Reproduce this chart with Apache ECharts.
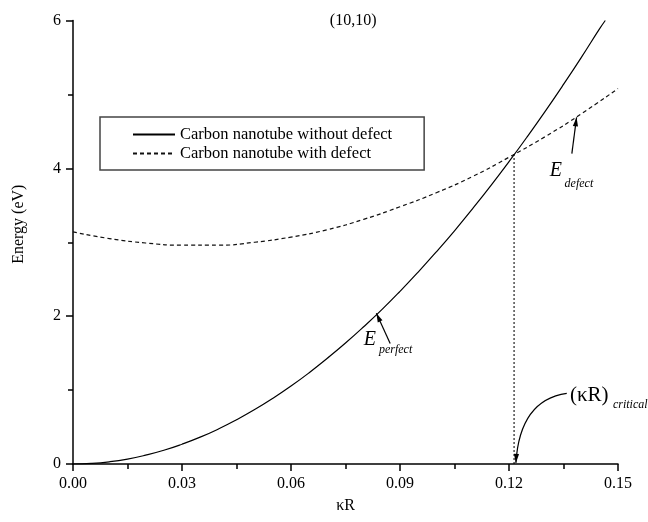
<!DOCTYPE html>
<html>
<head>
<meta charset="utf-8">
<script src="https://cdn.jsdelivr.net/npm/echarts@6/dist/echarts.min.js"></script>
<style>html,body{margin:0;padding:0;background:#fff}#c{width:648px;height:522px}</style>
</head>
<body>
<div id="c"></div>
<script>
// ---- data ----
const perfectKR = [0,0.005,0.01,0.015,0.02,0.025,0.03,0.035,0.04,0.045,0.05,0.055,0.06,0.065,0.07,0.075,0.08,0.085,0.09,0.095,0.10,0.105,0.11,0.115,0.12,0.125,0.13,0.135,0.14,0.145,0.1465];
const perfectE  = [0,0.008,0.030,0.067,0.120,0.186,0.268,0.363,0.473,0.598,0.736,0.888,1.054,1.235,1.430,1.636,1.856,2.088,2.336,2.597,2.870,3.155,3.455,3.766,4.090,4.426,4.774,5.135,5.508,5.893,6.0];
const defectKR  = [0,0.01,0.02,0.03,0.04,0.05,0.06,0.07,0.08,0.09,0.10,0.11,0.12,0.13,0.14,0.15];
const defectE   = [3.14,3.05,2.99,2.96,2.96,3.00,3.07,3.17,3.31,3.48,3.67,3.89,4.15,4.43,4.74,5.08];
const criticalKR = 0.1214;
const criticalE  = 4.19;
const seriesNames = ['Carbon nanotube without defect','Carbon nanotube with defect'];
const xTicks = {min:0, max:0.15, interval:0.03};
const yTicks = {min:0, max:6, interval:2};
const titleText = '(10,10)';

const FONT = "'Liberation Serif','Times New Roman',serif";
const chart = echarts.init(document.getElementById('c'), null, {renderer:'canvas'});

const zip = (xs, ys) => xs.map((x,i)=>[x, ys[i]]);

chart.setOption({
  animation:false,
  backgroundColor:'#fff',
  grid:{left:73, right:30, top:20.5, bottom:58},
  legend:{
    data:seriesNames,
    orient:'vertical',
    left:100, top:117,
    padding:[9,32,8,32],
    itemGap:2,
    itemWidth:42, itemHeight:14,
    borderColor:'#444', borderWidth:1.5,
    itemStyle:{opacity:0},
    textStyle:{fontFamily:FONT, fontSize:16.5, color:'#000'},
    selectedMode:false
  },
  xAxis:{
    type:'value', min:xTicks.min, max:xTicks.max, interval:xTicks.interval,
    name:'κR', nameLocation:'middle', nameGap:34,
    nameTextStyle:{fontFamily:FONT, fontSize:16, color:'#000'},
    axisLine:{onZero:false, lineStyle:{color:'#000', width:1.5}},
    axisTick:{show:true, inside:false, length:7, lineStyle:{color:'#000', width:1.5}},
    minorTick:{show:true, splitNumber:2, length:5, lineStyle:{color:'#000', width:1.5}},
    splitLine:{show:false},
    axisLabel:{margin:12, fontFamily:FONT, fontSize:16, color:'#000', formatter:v=>v.toFixed(2)}
  },
  yAxis:{
    type:'value', min:yTicks.min, max:yTicks.max, interval:yTicks.interval,
    name:'Energy (eV)', nameLocation:'middle', nameGap:46,
    nameTextStyle:{fontFamily:FONT, fontSize:16, color:'#000', padding:[0,0,0,36]},
    axisLine:{show:true, onZero:false, lineStyle:{color:'#000', width:1.5}},
    axisTick:{show:true, inside:false, length:7, lineStyle:{color:'#000', width:1.5}},
    minorTick:{show:true, splitNumber:2, length:5, lineStyle:{color:'#000', width:1.5}},
    splitLine:{show:false},
    axisLabel:{margin:12, fontFamily:FONT, fontSize:16, color:'#000'}
  },
  series:[
    {name:seriesNames[0], type:'line', data:zip(perfectKR, perfectE), smooth:true, showSymbol:false, symbol:'none',
     lineStyle:{color:'#000', width:1.2}, itemStyle:{color:'#000'}},
    {name:seriesNames[1], type:'line', data:zip(defectKR, defectE), smooth:true, showSymbol:false, symbol:'none',
     lineStyle:{color:'#111', width:1.2, type:[4,3]}, itemStyle:{color:'#111'}},
    {name:'critical', type:'line', data:[[criticalKR, criticalE],[criticalKR, 0]], showSymbol:false, symbol:'none',
     lineStyle:{color:'#000', width:1.4, type:[1.5,2.5]}}
  ]
});

// ---- annotations, anchored in data coordinates ----
const P = (x,y) => chart.convertToPixel({gridIndex:0}, [x,y]);
function arrowHead(tip, from){
  const dx = tip[0]-from[0], dy = tip[1]-from[1];
  const L = Math.hypot(dx,dy) || 1, ux = dx/L, uy = dy/L;
  const len = 9, hw = 2.6;
  const bx = tip[0]-ux*len, by = tip[1]-uy*len;
  return {type:'polygon', shape:{points:[tip,[bx-uy*hw, by+ux*hw],[bx+uy*hw, by-ux*hw]]}, style:{fill:'#000'}};
}
function straightArrow(tailD, tipD){
  const a = P(...tailD), b = P(...tipD);
  return [{type:'line', shape:{x1:a[0],y1:a[1],x2:b[0],y2:b[1]}, style:{stroke:'#000', lineWidth:1.2}}, arrowHead(b,a)];
}
function label(pos, text, size, italic, align){
  const p = P(...pos);
  return {type:'text', x:p[0], y:p[1], style:{text, fontFamily:FONT, fontSize:size, fontStyle:italic?'italic':'normal', fill:'#000', align:align||'left', verticalAlign:'middle'}};
}
const g = [];
g.push(label([0.0771, 6.0], titleText, 16, false, 'center'));
// E_perfect
g.push(...straightArrow([0.0873, 1.63], [0.0835, 2.04]));
g.push(label([0.0800, 1.68], 'E', 20, true));
g.push(label([0.0842, 1.55], 'perfect', 12, true));
// E_defect
g.push(...straightArrow([0.1373, 4.20], [0.1386, 4.69]));
g.push(label([0.1312, 3.97], 'E', 20, true));
g.push(label([0.1353, 3.79], 'defect', 12, true));
// (κR)_critical
(function(){
  const s = P(0.1359, 0.955), c = P(0.1230, 0.865), t = P(0.1219, 0.015);
  g.push({type:'bezierCurve', shape:{x1:s[0],y1:s[1],x2:t[0],y2:t[1],cpx1:c[0],cpy1:c[1]}, style:{stroke:'#000', lineWidth:1.2, fill:null}});
  g.push(arrowHead(t, [c[0]+ (t[0]-c[0])*0.6, c[1]+(t[1]-c[1])*0.6]));
})();
g.push(label([0.1368, 0.93], '(κR)', 21, false));
g.push(label([0.1486, 0.80], 'critical', 12, true));
chart.setOption({graphic:g});
</script>
</body>
</html>
